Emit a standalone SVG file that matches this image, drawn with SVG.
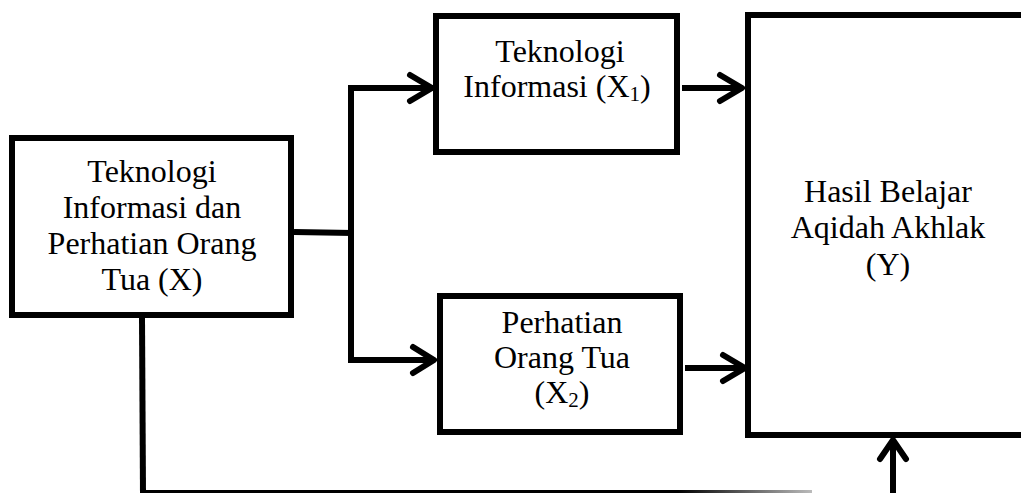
<svg xmlns="http://www.w3.org/2000/svg" width="1021" height="493" viewBox="0 0 1021 493">
<style>
.box{fill:#fff;stroke:#000;stroke-width:6}
.ln{fill:none;stroke:#000;stroke-width:6}
.hd{fill:none;stroke:#000;stroke-width:6;stroke-linecap:round;stroke-linejoin:round}
text{font-family:"Liberation Serif","Times New Roman",serif;font-size:32px;fill:#000;text-anchor:middle}
.sub{font-size:21px}
</style>
<defs>
<linearGradient id="fade" x1="142" y1="0" x2="812" y2="0" gradientUnits="userSpaceOnUse">
<stop offset="0.8" stop-color="#000"/>
<stop offset="1" stop-color="#bbb"/>
</linearGradient>
</defs>
<g id="connectors">
<polyline class="ln" points="294,232 353,233"/>
<polyline class="ln" points="430,88 351,88 351,360 430,360"/>
<polyline class="hd" points="410,75 432,88 410,101"/>
<polyline class="hd" points="413,347 434,360 413,373"/>
<line class="ln" x1="682" y1="88" x2="740" y2="88"/>
<polyline class="hd" points="720,75 742,88 720,101"/>
<line class="ln" x1="685" y1="368" x2="742" y2="368"/>
<polyline class="hd" points="723,355 745,368 723,381"/>
<line class="ln" x1="142" y1="318" x2="143" y2="493"/>
<line x1="142" y1="491.5" x2="812" y2="491.5" stroke="url(#fade)" stroke-width="3"/>
<line class="ln" x1="893" y1="493" x2="893" y2="442"/>
<polyline class="hd" points="880,459 893,440 906,459"/>
</g>
<g id="node-x">
<rect class="box" x="12" y="138" width="279" height="177"/>
<text x="152" y="182">Teknologi</text>
<text x="152" y="218">Informasi dan</text>
<text x="152" y="254">Perhatian Orang</text>
<text x="152" y="290">Tua (X)</text>
</g>
<g id="node-x1">
<rect class="box" x="436" y="16" width="241" height="136"/>
<text x="560" y="62">Teknologi</text>
<text x="557" y="97">Informasi (X<tspan class="sub" dy="4">1</tspan><tspan dy="-4">)</tspan></text>
</g>
<g id="node-x2">
<rect class="box" x="440" y="296" width="240" height="136"/>
<text x="562" y="333">Perhatian</text>
<text x="562" y="368">Orang Tua</text>
<text x="562" y="403">(X<tspan class="sub" dy="4">2</tspan><tspan dy="-4">)</tspan></text>
</g>
<g id="node-y">
<rect class="box" x="748" y="15" width="290" height="420"/>
<text x="888" y="202">Hasil Belajar</text>
<text x="888" y="238">Aqidah Akhlak</text>
<text x="888" y="275">(Y)</text>
</g>
</svg>
